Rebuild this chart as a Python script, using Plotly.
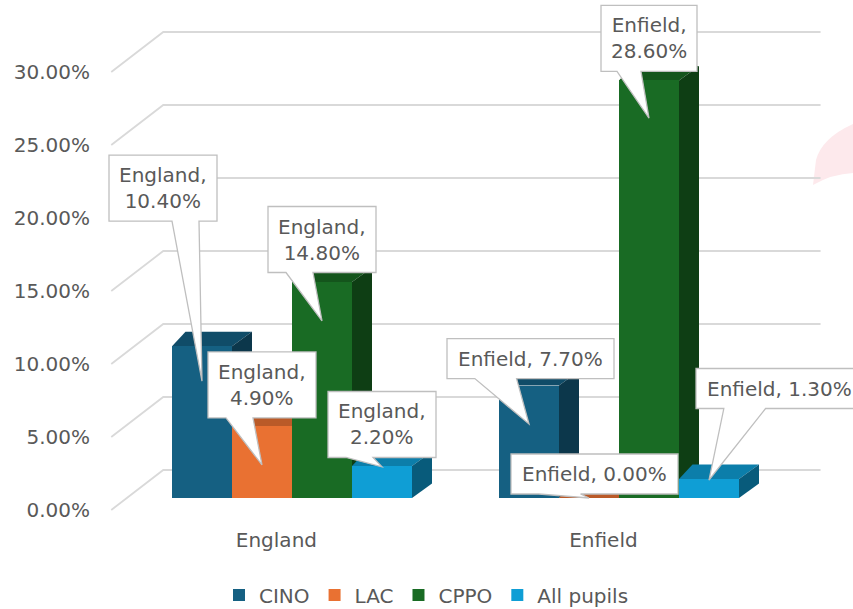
import plotly.graph_objects as go

# ---- data -------------------------------------------------------------
categories = ["England", "Enfield"]
series_names = ["CINO", "LAC", "CPPO", "All pupils"]
cino = [10.4, 7.7]
lac = [4.9, 0.0]
cppo = [14.8, 28.6]
all_pupils = [2.2, 1.3]
y_tick_values = [0, 5, 10, 15, 20, 25, 30]
y_tick_labels = [f"{v:.2f}%" for v in y_tick_values]

series_values = [cino, lac, cppo, all_pupils]
colors = ["#156082", "#E97132", "#196B24", "#0F9ED5"]

# ---- page / projection geometry ----------------------------------------
W, H = 853, 609
M_L, M_R, M_T, M_B = 100, 0, 0, 83
plot_w = W - M_L - M_R
plot_h = H - M_T - M_B
PX_PER_CAT = 327.0      # pixels between the two category slots
PX_PER_PCT = 14.6       # pixels per percentage point
CAT0_PX = 276.4         # page x of the first category on the front plane
ZERO_PX = 510.0         # page y of 0% on the front plane

x_range = [(M_L - CAT0_PX) / PX_PER_CAT, (M_L + plot_w - CAT0_PX) / PX_PER_CAT]
y_range = [(ZERO_PX - (M_T + plot_h)) / PX_PER_PCT, (ZERO_PX - M_T) / PX_PER_PCT]

# oblique depth of the floor / walls
WALL_DX = 52 / PX_PER_CAT
WALL_DY = 40 / PX_PER_PCT
WALL_X = (-0.505, 1.505)
FRONT = 0.3                       # bars' front faces sit this far into the floor
BAR_W = 60 / PX_PER_CAT
BACK_L = 13.5 / PX_PER_CAT        # shift of the back-left edge of a bar top
BACK_R = 20 / PX_PER_CAT          # shift of the back-right edge
BACK_UP = 14.5 / PX_PER_PCT       # rise of the back edges

FONT = dict(family="DejaVu Sans", size=20, color="#595959")
GRID = "#d9d9d9"


def shade(hex_color, k):
    r, g, b = (int(hex_color[i:i + 2], 16) for i in (1, 3, 5))
    return "#%02x%02x%02x" % (int(r * k), int(g * k), int(b * k))


shapes = []

# side-wall diagonals + back-wall horizontals for each gridline
xl, xr = WALL_X
for v in y_tick_values:
    path = (f"M {xl},{v} L {xl + WALL_DX},{v + WALL_DY} "
            f"L {xr + WALL_DX},{v + WALL_DY}")
    shapes.append(dict(type="path", path=path, xref="x", yref="y",
                       line=dict(color=GRID, width=1.8), layer="below"))

base0 = FRONT * WALL_DY
fig = go.Figure()

bar_geom = {}
for ci in range(len(categories)):
    for si, vals in enumerate(series_values):
        v = vals[ci]
        xc = ci + (si - 1.5) * BAR_W + FRONT * WALL_DX
        x0, x1 = xc - BAR_W / 2, xc + BAR_W / 2
        top = base0 + v
        bar_geom[(ci, si)] = (xc, top)
        top_path = (f"M {x0},{top} L {x1},{top} L {x1 + BACK_R},{top + BACK_UP} "
                    f"L {x0 + BACK_L},{top + BACK_UP} Z")
        side_path = (f"M {x1},{base0} L {x1},{top} L {x1 + BACK_R},{top + BACK_UP} "
                     f"L {x1 + BACK_R},{base0 + BACK_UP} Z")
        shapes.append(dict(type="path", path=top_path, xref="x", yref="y",
                           fillcolor=shade(colors[si], 0.8), line=dict(width=0),
                           layer="below"))
        shapes.append(dict(type="path", path=side_path, xref="x", yref="y",
                           fillcolor=shade(colors[si], 0.58), line=dict(width=0),
                           layer="below"))

# front faces of the columns
for si, (name, vals) in enumerate(zip(series_names, series_values)):
    xs = [ci + (si - 1.5) * BAR_W + FRONT * WALL_DX for ci in range(len(categories))]
    fig.add_trace(go.Bar(
        x=xs, y=vals, base=base0, width=BAR_W, name=name,
        marker=dict(color=colors[si], line=dict(width=0)),
        hoverinfo="skip",
    ))

# callout placement, in pixels relative to the top-centre of each column front:
# tip offset, box centre offset, box width, box height, two-line text
callouts = {
    (0, 0): dict(tip=(0, -35), box=(-39, 158), w=108, h=66, wrap=True),
    (0, 1): dict(tip=(0, -38.5), box=(0, 41.5), w=108, h=66, wrap=True),
    (0, 2): dict(tip=(0, -39), box=(0, 42.4), w=108, h=66, wrap=True),
    (0, 3): dict(tip=(0, -1), box=(0, 41.4), w=108, h=66, wrap=True),
    (1, 0): dict(tip=(0, -38.4), box=(1.5, 27), w=167, h=40, wrap=False),
    (1, 1): dict(tip=(0, 0), box=(5.5, 24), w=167, h=40, wrap=False),
    (1, 2): dict(tip=(0, -37.6), box=(0, 42), w=96, h=66, wrap=True),
    (1, 3): dict(tip=(0, -1), box=(70.5, 90.5), w=167, h=40, wrap=False),
}

annotations = []
for (ci, si), c in callouts.items():
    xc, top = bar_geom[(ci, si)]
    v = series_values[si][ci]
    tx, ty = c["tip"]
    bx, by = c["box"]
    w, h = c["w"], c["h"]
    L, R = bx - w / 2, bx + w / 2
    T, B = by + h / 2, by - h / 2
    if tx > bx:
        xa, xb = L + 7 * w / 12, L + 10 * w / 12
    else:
        xa, xb = L + 2 * w / 12, L + 5 * w / 12
    path = (f"M {L},{T} L {R},{T} L {R},{B} L {xb},{B} L {tx},{ty} "
            f"L {xa},{B} L {L},{B} Z")
    shapes.append(dict(type="path", path=path, xref="x", yref="y",
                       xsizemode="pixel", ysizemode="pixel",
                       xanchor=xc, yanchor=top,
                       fillcolor="white", line=dict(color="#bfbfbf", width=1.3),
                       layer="above"))
    sep = ",<br>" if c["wrap"] else ", "
    annotations.append(dict(
        x=xc, y=top, xref="x", yref="y", showarrow=False,
        xshift=bx, yshift=by, xanchor="center", yanchor="middle",
        text=f"{categories[ci]}{sep}{v:.2f}%", font=FONT,
    ))


# faint pink ornament cut off by the right edge of the page
def px_to_paper(px, py):
    return (px - M_L) / plot_w, (M_T + plot_h - py) / plot_h


pts = [px_to_paper(*p) for p in [(853, 124), (822, 138), (816, 160), (813, 185),
                                  (832, 174), (853, 173)]]
orn = (f"M {pts[0][0]},{pts[0][1]} Q {pts[1][0]},{pts[1][1]} {pts[2][0]},{pts[2][1]} "
       f"L {pts[3][0]},{pts[3][1]} Q {pts[4][0]},{pts[4][1]} {pts[5][0]},{pts[5][1]} Z")
shapes.append(dict(type="path", path=orn, xref="paper", yref="paper",
                   fillcolor="#fde9ec", line=dict(width=0), layer="below"))

fig.update_layout(
    width=W, height=H,
    margin=dict(l=M_L, r=M_R, t=M_T, b=M_B),
    paper_bgcolor="white", plot_bgcolor="white",
    barmode="overlay", bargap=0,
    font=FONT,
    shapes=shapes, annotations=annotations,
    showlegend=True,
    legend=dict(orientation="h", xref="container", yref="container",
                x=0.5, xanchor="center", y=(H - 595) / H, yanchor="middle",
                font=FONT, itemwidth=30, traceorder="normal"),
    xaxis=dict(range=x_range, tickvals=list(range(len(categories))),
               ticktext=categories, showgrid=False, zeroline=False,
               showline=False, ticks="", tickfont=FONT),
    yaxis=dict(range=y_range, tickvals=y_tick_values, ticktext=y_tick_labels,
               showgrid=False, zeroline=False, showline=False,
               ticks="", tickfont=FONT, ticklabelstandoff=9),
)

fig.write_html("out.html")
